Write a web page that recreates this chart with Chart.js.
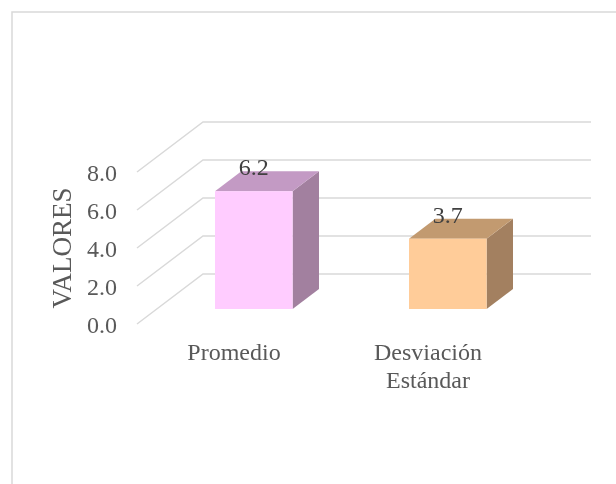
<!DOCTYPE html>
<html>
<head>
<meta charset="utf-8">
<script src="https://cdn.jsdelivr.net/npm/chart.js@4.4.0/dist/chart.umd.min.js"></script>
<style>
  body { margin: 0; background: #ffffff; }
</style>
</head>
<body>
<canvas id="myChart" width="616" height="484"></canvas>
<script>
// chart values
const categories = ['Promedio', ['Desviación', 'Estándar']];
const values = [6.2, 3.7];
const yTicks = [0, 2, 4, 6, 8];
const frontColors = ['#FFCCFF', '#FFCC99'];
const topColors = ['#C39AC4', '#C29A70'];
const sideColors = ['#A2809F', '#A38060'];

// 3d offsets (depth of the floor / walls and of the bars)
const wallDx = 66, wallDy = -50;
const barFrontDx = 19.8, barFrontDy = -15;
const barDx = 26.4, barDy = -20;
const gridColor = '#D9D9D9';
const serif = "'Liberation Serif', 'Times New Roman', serif";

// draw the walls, bars and labels in 3d
const threeD = {
    id: 'threeD',
    beforeDraw(chart) {
        const ctx = chart.ctx;
        ctx.save();
        ctx.strokeStyle = gridColor;
        ctx.lineWidth = 1.5;
        ctx.strokeRect(12, 12, 800, 800);
        ctx.restore();
    },
    beforeDatasetsDraw(chart) {
        const ctx = chart.ctx;
        const area = chart.chartArea;
        const y = chart.scales.y;
        ctx.save();
        ctx.strokeStyle = gridColor;
        ctx.lineWidth = 1.5;
        yTicks.forEach(v => {
            var py = y.getPixelForValue(v);
            ctx.beginPath();
            ctx.moveTo(area.left, py);
            ctx.lineTo(area.left + wallDx, py + wallDy);
            ctx.lineTo(area.right + wallDx, py + wallDy);
            ctx.stroke();
        });
        ctx.restore();
    },
    afterDatasetsDraw(chart) {
        const ctx = chart.ctx;
        const meta = chart.getDatasetMeta(0);
        ctx.save();
        meta.data.forEach((bar, i) => {
            var L = bar.x - bar.width / 2 + barFrontDx;
            var R = bar.x + bar.width / 2 + barFrontDx;
            var T = bar.y + barFrontDy;
            var B = bar.base + barFrontDy;
            // side
            ctx.fillStyle = sideColors[i];
            ctx.beginPath();
            ctx.moveTo(R, T);
            ctx.lineTo(R + barDx, T + barDy);
            ctx.lineTo(R + barDx, B + barDy);
            ctx.lineTo(R, B);
            ctx.closePath();
            ctx.fill();
            // top
            ctx.fillStyle = topColors[i];
            ctx.beginPath();
            ctx.moveTo(L, T);
            ctx.lineTo(R, T);
            ctx.lineTo(R + barDx, T + barDy);
            ctx.lineTo(L + barDx, T + barDy);
            ctx.closePath();
            ctx.fill();
            // front
            ctx.fillStyle = frontColors[i];
            ctx.fillRect(L, T, R - L, B - T);

            // value label
            ctx.fillStyle = '#404040';
            ctx.font = '24px ' + serif;
            ctx.textAlign = 'center';
            ctx.textBaseline = 'middle';
            ctx.fillText(values[i].toFixed(1), (L + R) / 2, T - 22);
        });
        ctx.restore();
    }
};

const data = {
    labels: categories,
    datasets: [{
        label: 'Valores',
        data: values,
        backgroundColor: 'rgba(0,0,0,0)',
        barPercentage: 0.4,
        categoryPercentage: 1.0
    }]
};

const config = {
    type: 'bar',
    data: data,
    options: {
        responsive: false,
        animation: false,
        layout: {
            padding: { left: 44, top: 172, right: 91, bottom: 60 }
        },
        plugins: {
            legend: { display: false },
            tooltip: { enabled: false }
        },
        scales: {
            x: {
                grid: { display: false },
                border: { display: false },
                ticks: {
                    color: '#595959',
                    padding: 8,
                    maxRotation: 0,
                    autoSkip: false,
                    font: { family: serif, size: 24, lineHeight: '28px' }
                },
                afterFit(scale) { scale.height = 100; }
            },
            y: {
                min: 0,
                max: 8,
                grid: { display: false },
                border: { display: false },
                ticks: {
                    stepSize: 2,
                    color: '#595959',
                    padding: 12,
                    labelOffset: 3,
                    font: { family: serif, size: 24 },
                    callback: v => v.toFixed(1)
                },
                title: {
                    display: true,
                    text: 'VALORES',
                    color: '#595959',
                    font: { family: serif, size: 27 }
                },
                afterFit(scale) { scale.width = 93; }
            }
        }
    },
    plugins: [threeD]
};

var myChartJS = new Chart(document.getElementById('myChart'), config);
</script>
</body>
</html>
